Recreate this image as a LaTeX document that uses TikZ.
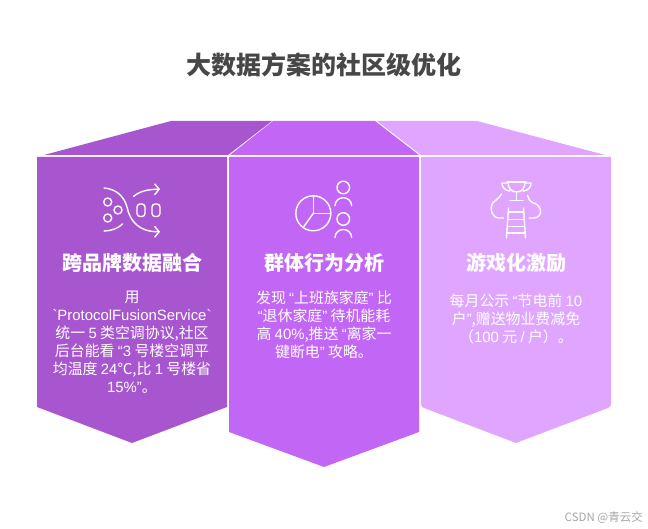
\documentclass[tikz,border=0pt]{standalone}
\usepackage{fontspec}
\usetikzlibrary{arrows.meta}
\setmainfont{Noto Sans CJK SC}
\newfontfamily\latfont{Liberation Sans}
\newcommand{\lat}[1]{{\latfont #1}}
\definecolor{cA}{HTML}{A855D0}
\definecolor{cB}{HTML}{C266F5}
\definecolor{cC}{HTML}{E0A6FF}
\tikzset{
 x=1pt,y=-1pt,
 ico/.style={draw=white,line width=1.4pt,line cap=round,line join=round,fill=none},
 icoarrow/.style={ico,-{Straight Barb[length=4.5pt,width=11pt,line width=1.4pt]}},
 head/.style={text=white,font=\fontsize{20}{24}\selectfont\bfseries,anchor=center,inner sep=0},
 body/.style={text=white,font=\fontsize{14.9}{18}\selectfont,align=center,anchor=north,inner sep=0},
 ttl/.style={text=black!72,font=\fontsize{25}{30}\selectfont\bfseries,inner sep=0},
 wm/.style={text=black!35,font=\fontsize{11.5}{13}\selectfont,inner sep=0,anchor=east}
}
\begin{document}
\begin{tikzpicture}
\useasboundingbox (0,0) rectangle (648,529);
\node[ttl] (title) at (324,65) {大数据方案的社区级优化};
% roofs
\fill[cA] (44,155) -- (171,121) -- (272,121) -- (228,155) -- cycle;
\fill[cB] (230,155) -- (273,121) -- (375,121) -- (419,155) -- cycle;
\fill[cC] (421,155) -- (377,121) -- (477,121) -- (605,155) -- cycle;
% bodies
\fill[cA] (37,157) -- (227,157) -- (227,407) -- (132,443) -- (37,407) -- cycle;
\fill[cB] (229,157) -- (419,157) -- (419,432) -- (324,467) -- (229,432) -- cycle;
\fill[cC] (421,157) -- (611,157) -- (611,404) .. controls (611,406) and (610,407.5) .. (608,408) -- (516,443) -- (424,408) .. controls (422,407.5) and (421,406) .. (421,404) -- cycle;
% icon 1
\draw[icoarrow] (104,188) .. controls (116,189) and (124,196) .. (127,207) .. controls (130,222) and (140,232) .. (160,231.7);
\draw[icoarrow] (133.5,196.5) .. controls (140,191) and (148,189.3) .. (160,189.3);
\draw[ico] (104,231) .. controls (111,231) and (118,228.5) .. (122.5,224);
\draw[ico] (107.7,202) circle (4);
\draw[ico] (118,210) circle (4);
\draw[ico] (107.7,218) circle (4);
\draw[ico,rounded corners=3pt] (137,204) rectangle (145,216.5);
\draw[ico,rounded corners=3pt] (152,204) rectangle (160,216.5);
% icon 2
\draw[ico] (313.3,213.3) circle (17.5);
\draw[ico] (313.3,195.8) -- (313.3,213.3) -- (330.8,213.3);
\draw[ico] (313.3,213.3) -- (303.2,227.5);
\draw[ico] (343.3,187.5) circle (6.3);
\draw[ico] (335,205.7) .. controls (335,201) and (339,197.7) .. (343.3,197.7) .. controls (347.6,197.7) and (351.6,201) .. (351.6,205.7);
\draw[ico] (343.3,219) circle (6.3);
\draw[ico] (335,237.5) .. controls (335,232.8) and (339,229.5) .. (343.3,229.5) .. controls (347.6,229.5) and (351.6,232.8) .. (351.6,237.5);
% icon 3
\draw[ico] (506.5,238) -- (508.5,208);
\draw[ico] (525.5,238) -- (523.5,208);
\draw[ico] (508.2,212) -- (523.8,212);
\draw[ico] (507.8,219.5) -- (524.2,219.5);
\draw[ico] (507.3,226.5) -- (524.7,226.5);
\draw[ico] (506.9,233) -- (525.1,233);
\draw[ico] (507,182) -- (526,182);
\draw[ico] (508,182) .. controls (508,188) and (511,192) .. (516.5,192) .. controls (522,192) and (525,188) .. (525,182);
\draw[ico] (516.5,192) -- (516.5,200);
\draw[ico] (510,200.5) -- (523,200.5);
\draw[ico] (507,183) -- (502,183) .. controls (502,187) and (505,191) .. (510,191);
\draw[ico] (526,183) -- (531,183) .. controls (531,187) and (528,191) .. (523,191);
\draw[ico] (501.5,194) .. controls (499,198) and (497,199) .. (495.5,200.5) .. controls (489,204) and (490,216) .. (498,218) -- (503.5,218);
\draw[ico] (527.5,195.5) .. controls (529,199) and (530,201.5) .. (532,202.5) .. controls (542,204) and (544,217) .. (534,218) -- (529,218);
% headings
\node[head] (h1) at (132,263) {跨品牌数据融合};
\node[head] (h2) at (324,263) {群体行为分析};
\node[head] (h3) at (516,263) {游戏化激励};
% bodies
\node[body] (b1) at (132,291) {用\\\lat{`ProtocolFusionService`}\\统一 \lat{5} 类空调协议,社区\\后台能看 \lat{“3} 号楼空调平\\均温度 \lat{24}℃,比 \lat{1} 号楼省\\\lat{15\%”}。};
\node[body] (b2) at (324,291) {发现 \lat{“}上班族家庭\lat{”} 比\\\lat{“}退休家庭\lat{”} 待机能耗\\高 \lat{40\%},推送 \lat{“}离家一\\键断电\lat{”} 攻略。};
\node[body] (b3) at (516,294) {每月公示 \lat{“}节电前 \lat{10}\\户\lat{”},赠送物业费减免\\（\lat{100} 元 \lat{/} 户）。};
\node[wm] (wm) at (643,518) {CSDN @青云交};
\end{tikzpicture}
\end{document}
